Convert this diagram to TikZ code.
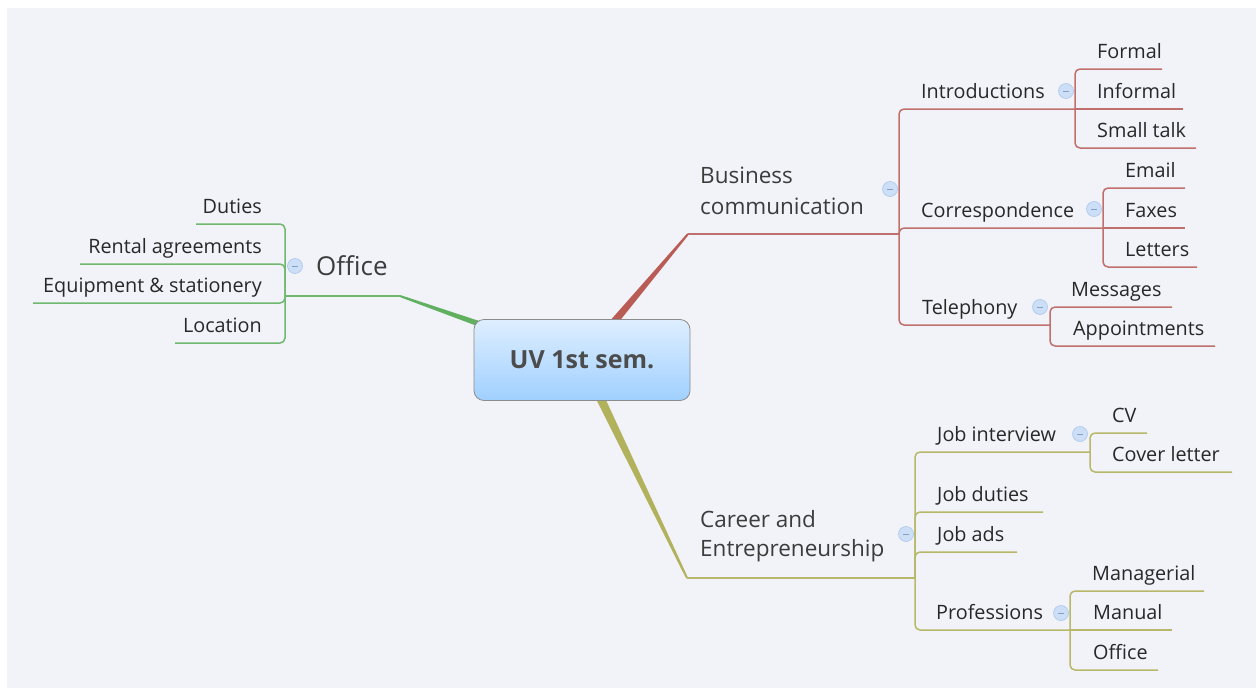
\documentclass[tikz,border=0pt]{standalone}
\usepackage{fontspec}
\setmainfont{Open Sans}
\usetikzlibrary{calc}
\definecolor{bg}{RGB}{242,243,249}
\definecolor{gthick}{RGB}{96,176,96}
\definecolor{gline}{RGB}{112,184,112}
\definecolor{rthick}{RGB}{186,92,86}
\definecolor{rline}{RGB}{192,112,108}
\definecolor{othick}{RGB}{178,178,92}
\definecolor{oline}{RGB}{184,184,106}
\definecolor{txt}{RGB}{40,40,40}
\definecolor{maintxt}{RGB}{60,60,60}
\definecolor{roottxt}{RGB}{76,76,76}
\definecolor{rootline}{RGB}{140,140,140}
\definecolor{roottop}{RGB}{222,238,255}
\definecolor{rootbot}{RGB}{160,208,255}
\definecolor{iconfill}{RGB}{205,223,246}
\definecolor{iconline}{RGB}{170,198,236}
\definecolor{iconminus}{RGB}{130,160,200}
\tikzset{
  sub/.style={font=\fontsize{19.8}{24}\selectfont, text=txt, inner sep=0pt, anchor=base west},
  subl/.style={sub, anchor=base east},
  maintopic/.style={font=\fontsize{22.5}{31}\selectfont, text=maintxt, inner sep=0pt, align=left, anchor=base west},
  rootbox/.style={rounded corners=10pt, draw=rootline, line width=0.8pt, top color=roottop, bottom color=rootbot, minimum width=216pt, minimum height=81pt, inner sep=0pt, font=\fontsize{25}{30}\selectfont\bfseries, text=roottxt},
  icon/.style={circle, minimum size=15pt, inner sep=0pt, fill=iconfill, draw=iconline, line width=0.6pt,
    path picture={\draw[iconminus, line width=0.9pt] ([xshift=-3pt]path picture bounding box.center) -- ([xshift=3pt]path picture bounding box.center);}},
  gl/.style={draw=gline, line width=1.5pt, rounded corners=5pt},
  rl/.style={draw=rline, line width=1.5pt, rounded corners=5pt},
  ol/.style={draw=oline, line width=1.5pt, rounded corners=5pt},
}
\begin{document}
\begin{tikzpicture}[x=1pt,y=-1pt]
\useasboundingbox (0,0) rectangle (1260,688);
\fill[white] (0,0) rectangle (1260,688);
\fill[bg] (7,8) rectangle (1256,688);

% branch junctions
\coordinate (C) at (582,360);
\coordinate (oJ) at (400,296);
\coordinate (bJ) at (688,234);
\coordinate (cJ) at (687,578);

% tapered main branches
\fill[gthick] ($(C)!5pt!90:(oJ)$) -- ($(oJ)!1pt!-90:(C)$) -- ($(oJ)!1pt!90:(C)$) -- ($(C)!5pt!-90:(oJ)$) -- cycle;
\fill[rthick] ($(C)!5pt!90:(bJ)$) -- ($(bJ)!1pt!-90:(C)$) -- ($(bJ)!1pt!90:(C)$) -- ($(C)!5pt!-90:(bJ)$) -- cycle;
\fill[othick] ($(C)!5pt!90:(cJ)$) -- ($(cJ)!1pt!-90:(C)$) -- ($(cJ)!1pt!90:(C)$) -- ($(C)!5pt!-90:(cJ)$) -- cycle;

\node[rootbox] (root) at (C) {UV 1st sem.};

% ---------- Office (left, green)
\coordinate (oV) at (285,296);
\coordinate (duE) at (196,224);
\coordinate (raE) at (80,264);
\coordinate (eqE) at (33,303);
\coordinate (loE) at (175,343);
\draw[gl] (oJ) -- (oV);
\draw[gl] (oV) |- (duE);
\draw[gl] (oV) |- (raE);
\draw[gl] (oV) |- (eqE);
\draw[gl] (oV) |- (loE);
\node[font=\fontsize{26}{30}\selectfont, text=maintxt, inner sep=0pt, anchor=base west] (office) at (316,275) {Office};
\node[icon] (officeI) at (295,266) {};
\node[subl] (duties) at (262,213) {Duties};
\node[subl] (rental) at (262,253) {Rental agreements};
\node[subl] (equip) at (262,292) {Equipment \& stationery};
\node[subl] (location) at (262,332) {Location};

% ---------- Business communication (red)
\coordinate (bV) at (899,234);
\coordinate (iV) at (1075,109);
\coordinate (cV) at (1103,228);
\coordinate (tV) at (1050,325);
\draw[rl] (bJ) -- (bV);
\draw[rl] (bV) |- (iV);
\draw[rl] (bV) |- (cV);
\draw[rl] (bV) |- (tV);
\coordinate (foE) at (1162,69);
\coordinate (inE) at (1183,109);
\coordinate (smE) at (1196,148);
\draw[rl] (iV) |- (foE);
\draw[rl] (iV) -- (inE);
\draw[rl] (iV) |- (smE);
\coordinate (emE) at (1185,188);
\coordinate (faE) at (1185,228);
\coordinate (leE) at (1197,267);
\draw[rl] (cV) |- (emE);
\draw[rl] (cV) -- (faE);
\draw[rl] (cV) |- (leE);
\coordinate (meE) at (1172,307);
\coordinate (apE) at (1215,346);
\draw[rl] (tV) |- (meE);
\draw[rl] (tV) |- (apE);

\node[maintopic] (business) at (700,214) {Business\\communication};
\node[icon] (businessI) at (890,189) {};
\node[sub] (intro) at (921,98) {Introductions};
\node[icon] (introI) at (1066,91) {};
\node[sub] (formal) at (1097,58) {Formal};
\node[sub] (informal) at (1097,98) {Informal};
\node[sub] (small) at (1097,137) {Small talk};
\node[sub] (corr) at (921,217) {Correspondence};
\node[icon] (corrI) at (1094,209) {};
\node[sub] (email) at (1125,177) {Email};
\node[sub] (faxes) at (1125,217) {Faxes};
\node[sub] (letters) at (1125,256) {Letters};
\node[sub] (tel) at (922,314) {Telephony};
\node[icon] (telI) at (1040,307) {};
\node[sub] (msg) at (1071,296) {Messages};
\node[sub] (appt) at (1073,335) {Appointments};

% ---------- Career and Entrepreneurship (olive)
\coordinate (kV) at (915,578);
\coordinate (jV) at (1090,452);
\coordinate (pV) at (1070,630);
\coordinate (jdE) at (1043,512);
\coordinate (jaE) at (1017,552);
\draw[ol] (cJ) -- (kV);
\draw[ol] (kV) |- (jV);
\draw[ol] (kV) |- (jdE);
\draw[ol] (kV) |- (jaE);
\draw[ol] (kV) |- (pV);
\coordinate (cvE) at (1147,433);
\coordinate (clE) at (1232,472);
\draw[ol] (jV) |- (cvE);
\draw[ol] (jV) |- (clE);
\coordinate (maE) at (1204,591);
\coordinate (muE) at (1172,630);
\coordinate (ofE) at (1158,670);
\draw[ol] (pV) |- (maE);
\draw[ol] (pV) -- (muE);
\draw[ol] (pV) |- (ofE);

\node[maintopic, font=\fontsize{22.5}{29}\selectfont] (career) at (700,556) {Career and\\Entrepreneurship};
\node[icon] (careerI) at (906,534) {};
\node[sub] (jobint) at (937,441) {Job interview};
\node[icon] (jobintI) at (1080,434) {};
\node[sub] (cv) at (1112,422) {CV};
\node[sub] (cover) at (1112,461) {Cover letter};
\node[sub] (jobduties) at (937,501) {Job duties};
\node[sub] (jobads) at (937,541) {Job ads};
\node[sub] (prof) at (936,619) {Professions};
\node[icon] (profI) at (1061,613) {};
\node[sub] (manag) at (1092,580) {Managerial};
\node[sub] (manual) at (1093,619) {Manual};
\node[sub] (offc) at (1093,659) {Office};
\end{tikzpicture}
\end{document}
